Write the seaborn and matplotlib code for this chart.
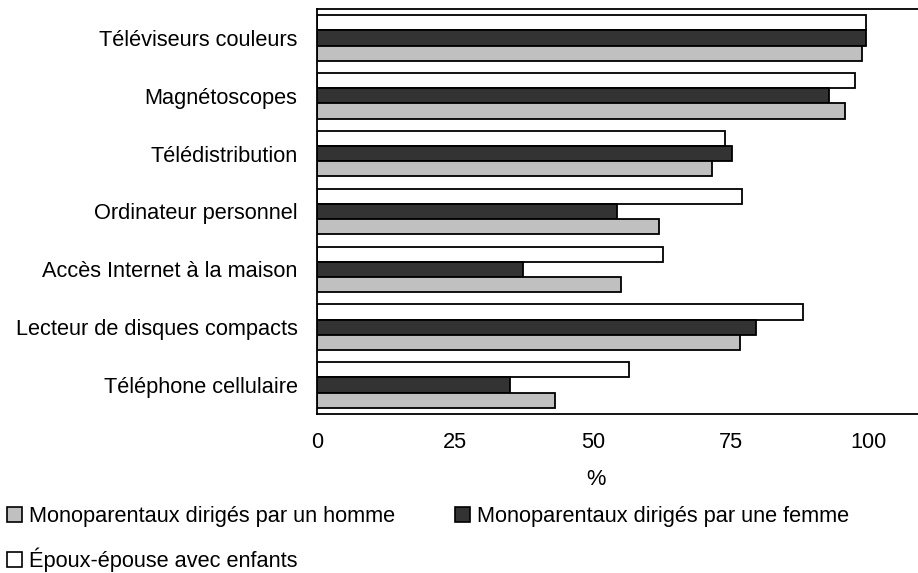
import seaborn as sns
import matplotlib.pyplot as plt
import pandas as pd
from matplotlib.patches import Patch

# 数据 (从图中读取的百分比)
categories = ['Téléviseurs couleurs', 'Magnétoscopes', 'Télédistribution',
              'Ordinateur personnel', 'Accès Internet à la maison',
              'Lecteur de disques compacts', 'Téléphone cellulaire']
homme = [98.8, 95.7, 71.6, 61.9, 55.1, 76.6, 43.2]
femme = [99.5, 92.7, 75.2, 54.3, 37.4, 79.5, 34.9]
epoux = [99.5, 97.4, 74.0, 77.0, 62.6, 88.1, 56.6]
series_names = ['Monoparentaux dirigés par un homme',
                'Monoparentaux dirigés par une femme',
                'Époux-épouse avec enfants']
xticks = [0, 25, 50, 75, 100]

colors = {series_names[0]: '#c0c0c0', series_names[1]: '#333333', series_names[2]: '#ffffff'}

rows = []
for name, vals in zip(series_names, [homme, femme, epoux]):
    for c, v in zip(categories, vals):
        rows.append({'cat': c, 'val': v, 'groupe': name})
df = pd.DataFrame(rows)

sns.set_style('white')
plt.rcParams['font.family'] = ['Liberation Sans', 'DejaVu Sans']
plt.rcParams['text.color'] = 'black'
plt.rcParams['xtick.color'] = 'black'
plt.rcParams['ytick.color'] = 'black'
plt.rcParams['axes.labelcolor'] = 'black'
fs = 15.7

fig = plt.figure(figsize=(9.18, 5.73), dpi=100)
ax = fig.add_axes([317 / 918, 1 - 414 / 573, 1 - 317 / 918, (414 - 9) / 573])

# 白色在上, 深色居中, 浅灰在下
sns.barplot(data=df, y='cat', x='val', hue='groupe', order=categories,
            hue_order=[series_names[2], series_names[1], series_names[0]],
            palette=colors, width=0.79, edgecolor='black', linewidth=1.3,
            orient='h', legend=False, ax=ax)

ax.set_xlim(0, (918 - 317) / 5.52)
ax.set_ylim(6.5, -0.5)
ax.set_xticks(xticks)
ax.set_xticklabels([str(t) for t in xticks], fontsize=fs)
ax.tick_params(axis='x', direction='in', length=5, width=1.1, pad=13, colors='black')
ax.tick_params(axis='y', length=0, pad=14, labelsize=fs, colors='black')
ax.set_ylabel('')
ax.set_xlabel('%', fontsize=fs, color='black')
ax.xaxis.set_label_coords((596 - 317) / (918 - 317), -0.135)

for side in ['left', 'bottom', 'top']:
    ax.spines[side].set_visible(True)
    ax.spines[side].set_color('black')
    ax.spines[side].set_linewidth(1.3)
ax.spines['right'].set_visible(False)

# 图例: 第一行 男/女, 第二行 夫妻 (按列填充, 所以顺序调整)
leg_order = [series_names[0], series_names[2], series_names[1]]
handles = [Patch(facecolor=colors[n], edgecolor='black', linewidth=1.2) for n in leg_order]
fig.legend(handles, leg_order, loc='upper left', bbox_to_anchor=(7 / 918, 1 - 506 / 573),
           ncol=2, frameon=False, fontsize=fs, handlelength=0.7, handleheight=0.7,
           handletextpad=0.3, columnspacing=2.75, labelspacing=0.95,
           borderpad=0, borderaxespad=0)

fig.savefig('out.png', dpi=100)
